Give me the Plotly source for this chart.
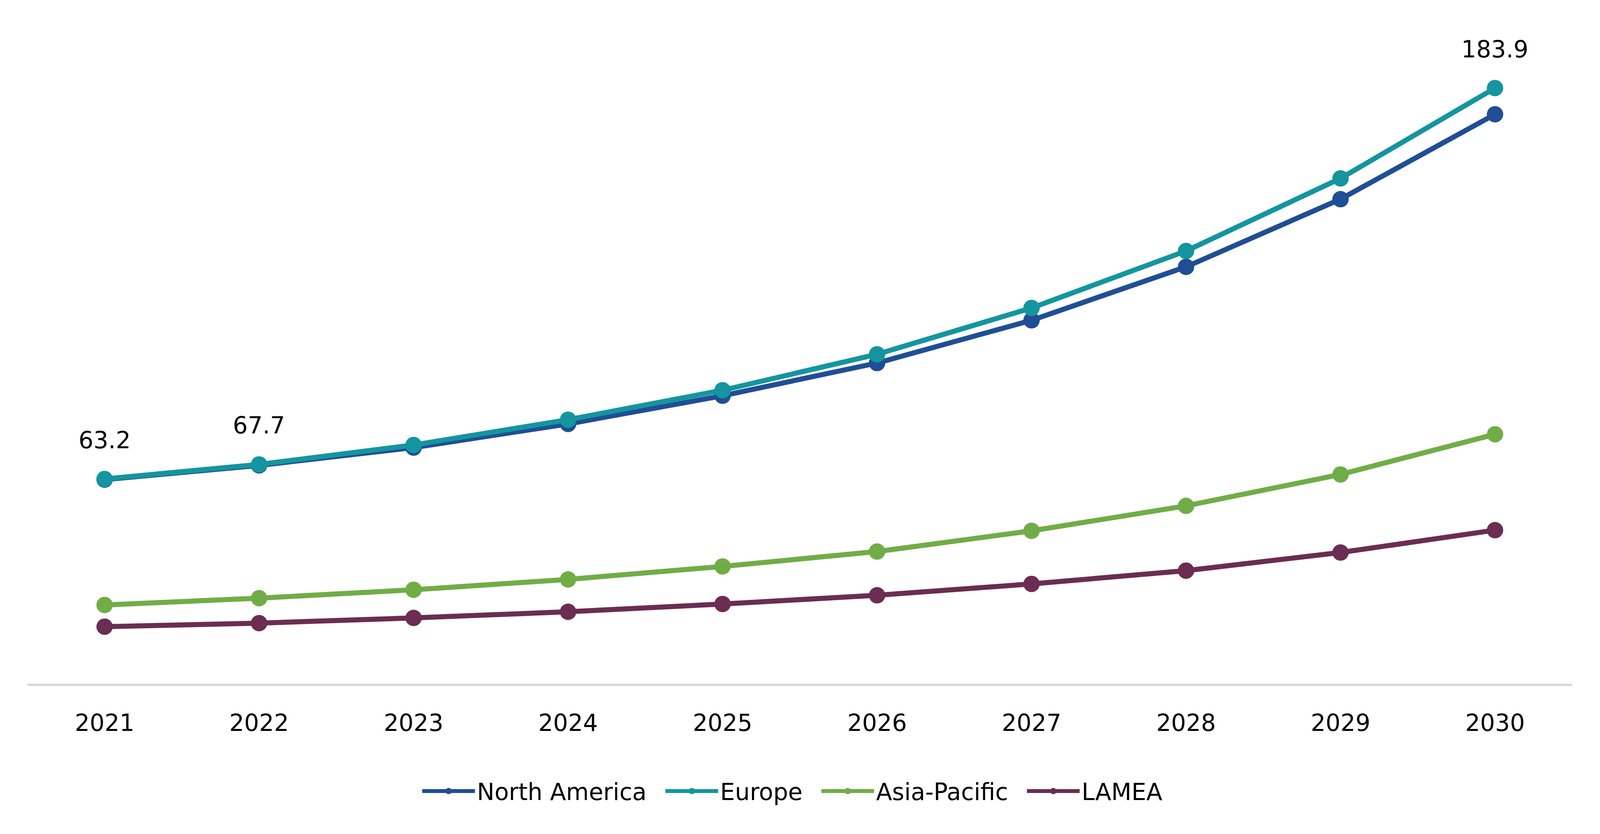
import plotly.graph_objects as go

years = ["2021", "2022", "2023", "2024", "2025", "2026", "2027", "2028", "2029", "2030"]
north_america = [63.0, 67.4, 72.9, 80.2, 88.9, 99.0, 112.2, 128.7, 149.6, 175.8]
europe = [63.2, 67.7, 73.7, 81.5, 90.6, 101.7, 116.0, 133.6, 156.0, 183.9]
asia_pacific = [24.3, 26.4, 29.0, 32.2, 36.2, 40.8, 47.2, 54.9, 64.6, 77.0]
lamea = [17.6, 18.7, 20.3, 22.2, 24.6, 27.3, 30.8, 34.9, 40.5, 47.4]

series_names = ["North America", "Europe", "Asia-Pacific", "LAMEA"]
series_values = [north_america, europe, asia_pacific, lamea]
series_colors = ["#1F4E96", "#14959F", "#71AD47", "#6B2D51"]

# data labels shown on the Europe series
label_indices = [0, 1, 9]

FONT = "DejaVu Sans"
FS = 60
PAD = "\u00a0" * 2  # spacing after each legend entry

fig = go.Figure()
for name, vals, col in zip(series_names, series_values, series_colors):
    fig.add_trace(go.Scatter(
        x=years, y=vals, name=name + PAD, mode="lines+markers",
        line=dict(color=col, width=13),
        marker=dict(color=col, size=42),
        hoverinfo="skip",
    ))

for i in label_indices:
    fig.add_annotation(
        x=i, y=europe[i], xref="x", yref="y",
        text=f"{europe[i]:.1f}",
        showarrow=False, yshift=100,
        font=dict(family=FONT, size=FS, color="#000000"),
    )

fig.update_layout(
    width=4078, height=2120,
    margin=dict(l=62, r=61, t=40, b=377),
    paper_bgcolor="#FFFFFF", plot_bgcolor="#FFFFFF",
    font=dict(family=FONT, size=FS, color="#000000"),
    showlegend=True,
    legend=dict(
        orientation="h", x=0.5, xanchor="center", y=-0.1615, yanchor="middle",
        font=dict(family=FONT, size=FS, color="#000000"),
        itemwidth=135, tracegroupgap=0,
    ),
    xaxis=dict(
        type="category", range=[-0.5, 9.5],
        showline=True, linecolor="#D9D9D9", linewidth=6,
        showgrid=False, zeroline=False, ticks="",
        tickfont=dict(family=FONT, size=FS, color="#000000"),
        ticklabelstandoff=43,
    ),
    yaxis=dict(
        range=[0, 205.3], showticklabels=False, showline=False,
        showgrid=False, zeroline=False, ticks="",
    ),
)

fig.write_html("out.html")
